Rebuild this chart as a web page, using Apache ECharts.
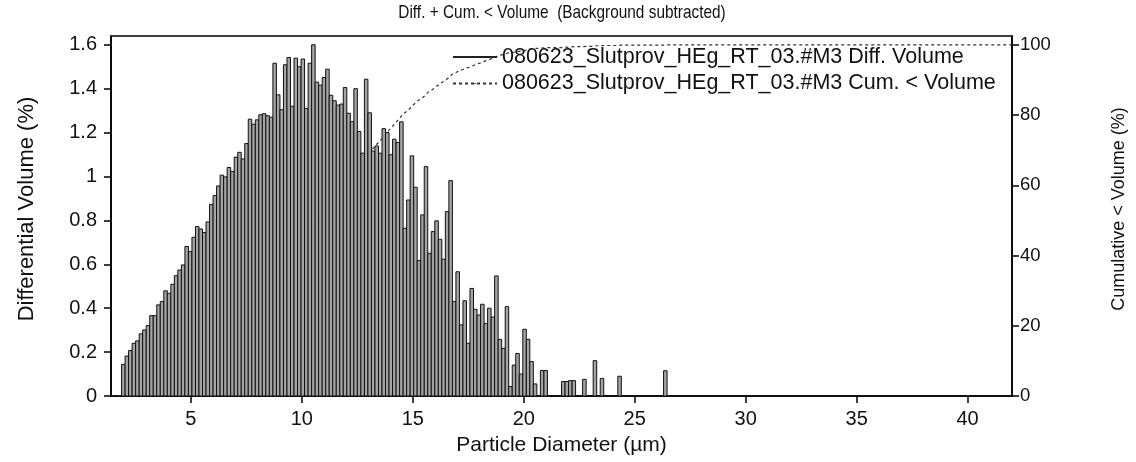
<!DOCTYPE html>
<html>
<head>
<meta charset="utf-8">
<script src="https://cdn.jsdelivr.net/npm/echarts@6/dist/echarts.min.js"></script>
<style>
  html, body { margin: 0; padding: 0; background: #fff; }
  #chart { width: 1136px; height: 462px; }
</style>
</head>
<body>
<div id="chart"></div>
<script>
// Instrument channel layout: 256 linear size channels between 1.4 and 42 µm
const binMin = 1.4;
const binMax = 42;
const binCount = 256;
const firstBin = 3;   // first channel that holds data

// Differential volume (%) per channel, starting at channel firstBin
const diffVolume = [
  0.144, 0.182, 0.207, 0.240, 0.251, 0.283, 0.301, 0.321, 0.366, 0.366,
  0.415, 0.430, 0.479, 0.468, 0.509, 0.548, 0.574, 0.597, 0.681, 0.658,
  0.723, 0.772, 0.761, 0.745, 0.793, 0.873, 0.913, 0.957, 1.006, 0.998,
  1.041, 1.023, 1.088, 1.110, 1.080, 1.150, 1.261, 1.238, 1.258, 1.281,
  1.286, 1.277, 1.270, 1.516, 1.372, 1.304, 1.509, 1.542, 1.320, 1.539,
  1.500, 1.535, 1.310, 1.516, 1.600, 1.430, 1.416, 1.451, 1.489, 1.370,
  1.345, 1.325, 1.330, 1.405, 1.288, 1.250, 1.400, 1.205, 1.106, 1.443,
  1.290, 1.116, 1.139, 1.106, 1.218, 1.200, 1.099, 1.170, 1.155, 1.249,
  0.764, 0.893, 1.094, 0.951, 0.617, 0.825, 1.045, 0.650, 0.749, 0.798,
  0.714, 0.623, 0.840, 0.981, 0.430, 0.566, 0.324, 0.434, 0.240, 0.490,
  0.395, 0.369, 0.418, 0.330, 0.400, 0.360, 0.547, 0.258, 0.217, 0.407,
  0.043, 0.141, 0.194, 0.100, 0.304, 0.258, 0.157, 0.055, 0,     0.116,
  0.116, 0,     0,     0,     0,     0.066, 0.066, 0.070, 0.070, 0,
  0,     0.076, 0,     0,     0.161, 0,     0.080, 0,     0,     0,
  0,     0.090, 0,     0,     0,     0,     0,     0,     0,     0,
  0,     0,     0,     0,     0.115
];

const xTickValues = [5, 10, 15, 20, 25, 30, 35, 40];
const diffTickValues = [0, 0.2, 0.4, 0.6, 0.8, 1, 1.2, 1.4, 1.6];
const cumTickValues = [0, 20, 40, 60, 80, 100];

const titleText = 'Diff. + Cum. < Volume  (Background subtracted)';
const diffName = '080623_Slutprov_HEg_RT_03.#M3 Diff. Volume';
const cumName = '080623_Slutprov_HEg_RT_03.#M3 Cum. < Volume';

const binWidth = (binMax - binMin) / binCount;

// channel edges + value for each bar
const barData = [];
diffVolume.forEach(function (v, k) {
  const lo = binMin + (firstBin + k) * binWidth;
  barData.push([lo, lo + binWidth, v]);
});

// cumulative undersize curve: running total of the differential channels
const total = diffVolume.reduce(function (a, b) { return a + b; }, 0);
const cumData = [[binMin, 0]];
let running = 0;
barData.forEach(function (d) {
  running += d[2];
  cumData.push([d[1], running / total * 100]);
});
cumData.push([binMax, 100]);

const FONT = 'Liberation Sans, Arial, sans-serif';
const INK = '#111';

const chart = echarts.init(document.getElementById('chart'), null, { renderer: 'canvas' });

const axisLine = { show: true, lineStyle: { color: '#000', width: 1.6 } };
function ticks(values) {
  return { show: true, inside: false, length: 7, customValues: values, lineStyle: { color: '#000', width: 1.5 } };
}
function labels(values, size, margin) {
  return { customValues: values, color: INK, fontSize: size, fontFamily: FONT, margin: margin };
}
function nameStyle(size, padding) {
  return { color: INK, fontSize: size, fontFamily: FONT, padding: padding || 0 };
}

chart.setOption({
  animation: false,
  backgroundColor: '#fff',
  // condensed heading text, centred over the plot
  graphic: [{
    type: 'text',
    x: 562,
    y: 13,
    scaleX: 0.81,
    style: {
      text: titleText,
      fill: INK,
      font: '19px Liberation Sans, Arial, sans-serif',
      align: 'center',
      verticalAlign: 'middle'
    }
  }],
  legend: {
    orient: 'vertical',
    left: 447,
    top: 41,
    itemWidth: 44,
    itemHeight: 2,
    itemGap: 4.5,
    textStyle: { color: INK, fontSize: 21.5, fontFamily: FONT },
    data: [
      { name: diffName, icon: 'rect', itemStyle: { color: '#222' } },
      { name: cumName }
    ]
  },
  grid: {
    left: 111, right: 124, top: 36, bottom: 66,
    outerBoundsMode: 'none',
    containLabel: false,
    show: true, borderColor: '#000', borderWidth: 1.5, backgroundColor: 'transparent'
  },
  xAxis: {
    type: 'value',
    min: binMin,
    max: binMax,
    splitLine: { show: false },
    axisLine: axisLine,
    axisTick: ticks(xTickValues),
    axisLabel: labels(xTickValues, 20, 13),
    name: 'Particle Diameter (µm)',
    nameLocation: 'middle',
    nameGap: 39,
    nameTextStyle: nameStyle(21)
  },
  yAxis: [
    {
      type: 'value',
      position: 'left',
      min: 0,
      max: 1.64,
      splitLine: { show: false },
      axisLine: axisLine,
      axisTick: ticks(diffTickValues),
      axisLabel: labels(diffTickValues, 20, 14),
      name: 'Differential Volume (%)',
      nameLocation: 'middle',
      nameGap: 73,
      nameRotate: 90,
      nameTextStyle: nameStyle(22, [0, 0, 0, 14])
    },
    {
      type: 'value',
      position: 'right',
      min: 0,
      max: 102.5,
      splitLine: { show: false },
      axisLine: axisLine,
      axisTick: ticks(cumTickValues),
      axisLabel: labels(cumTickValues, 18.5, 8),
      name: 'Cumulative < Volume (%)',
      nameLocation: 'middle',
      nameGap: 98,
      nameRotate: 90,
      nameTextStyle: nameStyle(18, [0, 0, 0, 14])
    }
  ],
  series: [
    {
      name: cumName,
      type: 'line',
      yAxisIndex: 1,
      z: 1,
      data: cumData,
      showSymbol: false,
      symbol: 'none',
      lineStyle: { color: '#333', width: 1.2, type: [3, 3] },
      itemStyle: { color: '#333' }
    },
    {
      name: diffName,
      type: 'custom',
      yAxisIndex: 0,
      z: 2,
      data: barData,
      encode: { x: [0, 1], y: 2 },
      itemStyle: { color: '#222' },
      renderItem: function (params, api) {
        const v = api.value(2);
        if (!v) return null;
        const p0 = api.coord([api.value(0), v]);
        const p1 = api.coord([api.value(1), 0]);
        return {
          type: 'rect',
          shape: { x: p0[0], y: p0[1], width: p1[0] - p0[0], height: p1[1] - p0[1] },
          style: { fill: '#a4a4a4', stroke: '#111', lineWidth: 1 }
        };
      }
    }
  ]
});
</script>
</body>
</html>
